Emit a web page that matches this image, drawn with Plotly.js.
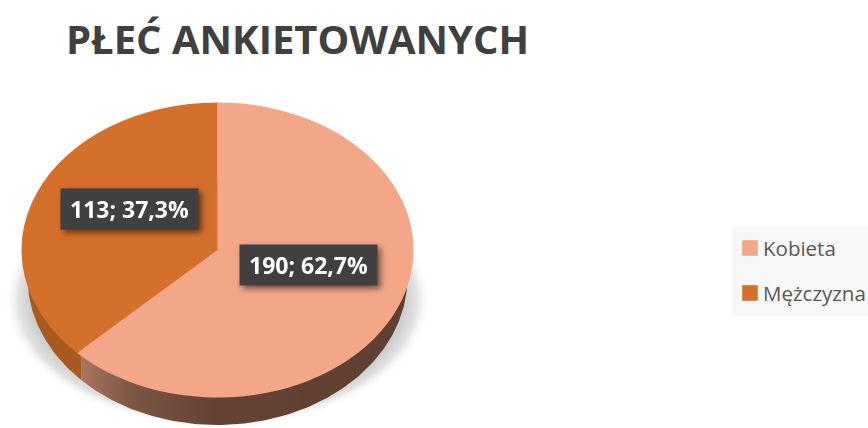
<!DOCTYPE html>
<html>
<head>
<meta charset="utf-8">
<script src="https://cdn.plot.ly/plotly-3.0.1.min.js"></script>
<style>
html,body{margin:0;padding:0;background:#fff;overflow:hidden;width:868px;height:428px}
#chart{width:868px;height:428px;overflow:hidden}
/* the library only draws round pies: flatten it to the tilted look of the original */
.pielayer{transform-origin:217.5px 250px;transform:scaleX(1.3288)}
.annotation-text-g{filter:drop-shadow(3px 3px 3px rgba(0,0,0,.55))}
/* legend spacing and swatch size of the original */
.legend .scrollbox{clip-path:none !important}
.legend .traces:nth-of-type(1){transform:translate(0px,22px)}
.legend .traces:nth-of-type(2){transform:translate(0px,67px)}
.legend path.legendpie{transform:translate(15px,0px) scale(1.3)}
.legend text.legendtext{transform:translateX(-12px)}
</style>
</head>
<body>
<div id="chart"></div>
<script>
const titleText = 'PŁEĆ ANKIETOWANYCH';
const categories = ['Kobieta', 'Mężczyzna'];
const counts = [190, 113];
const sliceColors = ['#F4A688', '#D4702B'];
const percentTexts = ['62,7%', '37,3%'];

const W = 868, H = 428;
const cx = 217.5, cy = 250, rx = 196, ry = 147.5;   // top face
const wallCy = 277, wallRx = 190, wallRy = 148;     // lower edge of the side wall
const total = counts.reduce((a, b) => a + b, 0);
const splitDeg = 360 * counts[0] / total;

function arc(ox, oy, ax, ay, fromDeg, toDeg) {
  const xs = [], ys = [];
  const n = Math.max(2, Math.ceil(Math.abs(toDeg - fromDeg)));
  for (let i = 0; i <= n; i++) {
    const t = (fromDeg + (toDeg - fromDeg) * i / n) * Math.PI / 180;
    xs.push(ox + ax * Math.sin(t));
    ys.push(oy - ay * Math.cos(t));
  }
  return [xs, ys];
}
function wall(fromDeg, toDeg) {
  const [x1, y1] = arc(cx, wallCy, wallRx, wallRy, fromDeg, toDeg);
  const [x2, y2] = arc(cx, cy, rx - 5, ry - 5, toDeg, fromDeg);
  return [x1.concat(x2), y1.concat(y2)];
}

const [shX, shY] = arc(cx, 300, 214, 128, 0, 360);
const [wall1X, wall1Y] = wall(90, splitDeg);
const [wall2X, wall2Y] = wall(splitDeg, 272);

const shadow = {
  type: 'scatter', mode: 'lines', x: shX, y: shY, fill: 'toself', line: {width: 0},
  fillgradient: {type: 'radial', colorscale: [[0, 'rgba(185,185,185,1)'], [0.84, 'rgba(195,195,195,1)'], [0.93, 'rgba(225,225,225,1)'], [1, 'rgba(255,255,255,0)']]},
  showlegend: false, hoverinfo: 'skip'
};
const wallKobieta = {
  type: 'scatter', mode: 'lines', x: wall1X, y: wall1Y, fill: 'toself', line: {width: 0},
  fillgradient: {type: 'horizontal', colorscale: [[0, '#AB7660'], [0.15, '#7E5645'], [0.4, '#654334'], [1, '#5F3F31']]},
  showlegend: false, hoverinfo: 'skip'
};
const wallMezczyzna = {
  type: 'scatter', mode: 'lines', x: wall2X, y: wall2Y, fill: 'toself', line: {width: 0},
  fillcolor: '#A95A1F', showlegend: false, hoverinfo: 'skip'
};
const pie = {
  type: 'pie', labels: categories, values: counts, sort: false, direction: 'clockwise', rotation: 0,
  marker: {colors: sliceColors, line: {width: 0}},
  textinfo: 'none', hoverinfo: 'label+value+percent',
  domain: {x: [(cx - ry) / W, (cx + ry) / W], y: [(H - cy - ry) / H, (H - cy + ry) / H]}
};

function labelBox(i, px, py) {
  return {
    xref: 'paper', yref: 'paper', x: px / W, y: 1 - py / H, xanchor: 'center', yanchor: 'middle',
    text: counts[i] + '; ' + percentTexts[i], showarrow: false, width: 137, height: 40,
    bgcolor: '#404040', borderpad: 0,
    font: {family: 'Open Sans, sans-serif', size: 23, color: '#fff', weight: 700}
  };
}

const layout = {
  width: W, height: H, margin: {l: 0, r: 0, t: 0, b: 0, autoexpand: false},
  paper_bgcolor: '#fff', plot_bgcolor: 'rgba(0,0,0,0)',
  title: {text: titleText, x: 66 / W, xanchor: 'left', xref: 'paper', y: 1 - 40 / H, yref: 'container', yanchor: 'middle',
          font: {family: 'Open Sans, sans-serif', size: 40, color: '#404040', weight: 700}},
  xaxis: {visible: false, range: [0, W], fixedrange: true},
  yaxis: {visible: false, range: [H, 0], fixedrange: true},
  shapes: [{type: 'rect', xref: 'paper', yref: 'paper', x0: 732 / W, x1: 1, y0: 1 - 316 / H, y1: 1 - 226 / H,
            fillcolor: '#F7F7F7', line: {width: 0}, layer: 'below'}],
  legend: {x: 735 / W, y: 1 - 226 / H, xanchor: 'left', yanchor: 'top', bgcolor: 'rgba(0,0,0,0)',
           entrywidth: 85, entrywidthmode: 'pixels',
           font: {family: 'Open Sans, sans-serif', size: 20.5, color: '#595959'}, itemclick: false, itemdoubleclick: false},
  annotations: [labelBox(0, 308.5, 264.5), labelBox(1, 129.5, 209)]
};

Plotly.newPlot('chart', [shadow, wallKobieta, wallMezczyzna, pie], layout, {displayModeBar: false, responsive: false});
</script>
</body>
</html>
